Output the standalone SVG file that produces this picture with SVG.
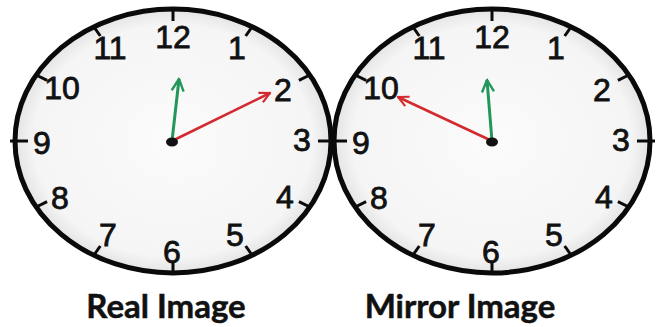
<svg xmlns="http://www.w3.org/2000/svg" xmlns:xlink="http://www.w3.org/1999/xlink" width="661" height="327" viewBox="0 0 661 327">
<style>
.face{stroke:#0a0a0a;stroke-width:5}
.tick{stroke:#0a0a0a;stroke-width:3;stroke-linecap:butt}
.num{font-family:"Liberation Sans","DejaVu Sans",sans-serif;font-size:32px;fill:#111;stroke:#111;stroke-width:0.8;text-anchor:middle}
.min{stroke:#d42a2f;stroke-width:2.6;fill:none}
.hr{stroke:#23975a;stroke-width:3;fill:none}
.lbl{font-family:Lato,"Open Sans",sans-serif;font-weight:bold;font-size:33px;fill:#111;stroke:#111;stroke-width:0.5;text-anchor:middle}
</style>
<defs>
<radialGradient id="fg" cx="50%" cy="50%" r="50%">
<stop offset="0" stop-color="#fbfbfb"/>
<stop offset="0.88" stop-color="#f5f5f5"/>
<stop offset="1" stop-color="#e4e4e4"/>
</radialGradient>
<marker id="ar" viewBox="0 0 10 10" refX="9" refY="5" markerWidth="5" markerHeight="5" orient="auto" markerUnits="strokeWidth">
<path d="M1,1 L9,5 L1,9" fill="none" stroke="#d42a2f" stroke-width="1.6"/>
</marker>
<marker id="ag" viewBox="0 0 10 10" refX="9" refY="5" markerWidth="5" markerHeight="5" orient="auto" markerUnits="strokeWidth">
<path d="M1,1 L9,5 L1,9" fill="none" stroke="#23975a" stroke-width="1.6"/>
</marker>
<g id="dial">
<ellipse cx="0" cy="0" rx="158" ry="132" fill="url(#fg)" class="face"/>
<g class="tick">
<line x1="0" y1="-132" x2="0" y2="-120"/>
<line x1="79" y1="-114" x2="72.7" y2="-105"/>
<line x1="136.8" y1="-66" x2="125.9" y2="-60.7"/>
<line x1="163" y1="0" x2="145" y2="0"/>
<line x1="136.8" y1="66" x2="125.9" y2="60.7"/>
<line x1="79" y1="114" x2="72.7" y2="105"/>
<line x1="0" y1="134" x2="0" y2="121"/>
<line x1="-79" y1="114" x2="-72.7" y2="105"/>
<line x1="-136.8" y1="66" x2="-125.9" y2="60.7"/>
<line x1="-163" y1="0" x2="-145" y2="0"/>
<line x1="-136.8" y1="-66" x2="-125.9" y2="-60.7"/>
<line x1="-79" y1="-114" x2="-72.7" y2="-105"/>
</g>
<g class="num">
<text x="0" y="-93">12</text>
<text x="-63" y="-82">11</text>
<text x="64" y="-82">1</text>
<text x="-111" y="-42">10</text>
<text x="110" y="-40">2</text>
<text x="-131" y="13">9</text>
<text x="129" y="10">3</text>
<text x="-113" y="68">8</text>
<text x="112" y="67">4</text>
<text x="-65" y="105">7</text>
<text x="62" y="105">5</text>
<text x="-1" y="122">6</text>
</g>
</g>
</defs>
<g id="clock-real">
<use xlink:href="#dial" href="#dial" x="173" y="141"/>
</g>
<g id="clock-mirror">
<use xlink:href="#dial" href="#dial" x="492" y="141"/>
</g>
<g id="connectors">
<line class="hr" x1="172" y1="141" x2="179" y2="79" marker-end="url(#ag)"/>
<line class="min" x1="172" y1="141" x2="270" y2="93" marker-end="url(#ar)"/>
<line class="hr" x1="492" y1="141" x2="487" y2="80" marker-end="url(#ag)"/>
<line class="min" x1="492" y1="141" x2="398" y2="97" marker-end="url(#ar)"/>
</g>
<g id="centers">
<ellipse cx="172" cy="142" rx="6" ry="4.5" fill="#111"/>
<ellipse cx="492" cy="142" rx="6" ry="4.5" fill="#111"/>
</g>
<g id="labels">
<text class="lbl" x="166" y="318">Real Image</text>
<text class="lbl" x="460" y="318">Mirror Image</text>
</g>
</svg>
